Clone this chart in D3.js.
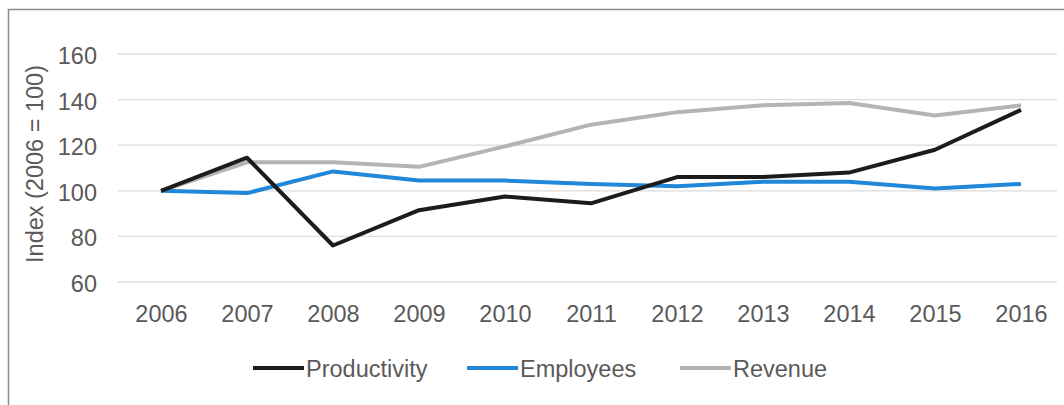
<!DOCTYPE html>
<html>
<head>
<meta charset="utf-8">
<script src="https://cdn.jsdelivr.net/npm/d3@7"></script>
<style>
  body { margin: 0; background: #fff; }
  svg { display: block; font-family: "Liberation Sans", Arial, sans-serif; }
</style>
</head>
<body>
<svg id="chart"></svg>
<script>
var years = ["2006","2007","2008","2009","2010","2011","2012","2013","2014","2015","2016"];
var productivity = [100, 114.5, 76, 91.5, 97.5, 94.5, 106, 106, 108, 118, 135.5];
var employees    = [100, 99, 108.5, 104.5, 104.5, 103, 102, 104, 104, 101, 103];
var revenue      = [100, 112.5, 112.5, 110.5, 119.5, 129, 134.5, 137.5, 138.5, 133, 137.5];
var yTicks = [60, 80, 100, 120, 140, 160];
var seriesNames = ["Productivity", "Employees", "Revenue"];
var seriesColors = ["#1c1c1c", "#2188d9", "#b4b4b4"];

window.onload = function(){
  var W = 1064, H = 405;
  var fs = 23.5;
  var svg = d3.select("#chart").attr("width", W).attr("height", H);

  // frame
  svg.append("rect")
    .attr("x", 8.5).attr("y", 9.5)
    .attr("width", W + 10).attr("height", H + 10)
    .attr("fill", "none").attr("stroke", "#8a8a8a").attr("stroke-width", 1.5);

  var x = d3.scalePoint().domain(years).range([161, 1021]);
  var y = d3.scaleLinear().domain([60, 160]).range([282, 54]);

  // gridlines
  svg.append("g").selectAll("line")
    .data(yTicks).enter()
    .append("line")
    .attr("x1", 118).attr("x2", 1057)
    .attr("y1", function(d){ return y(d); })
    .attr("y2", function(d){ return y(d); })
    .attr("stroke", "#dcdcdc").attr("stroke-width", 1.3);

  // y axis labels
  var yAxis = d3.axisLeft(y).tickValues(yTicks).tickSize(0).tickPadding(0);
  svg.append("g").attr("transform", "translate(97,2)").call(yAxis)
    .call(function(g){ g.select(".domain").remove(); })
    .selectAll("text")
    .attr("font-size", fs).attr("fill", "#5a5a5a")
    .attr("font-family", "Liberation Sans, Arial, sans-serif");

  // x axis labels
  var xAxis = d3.axisBottom(x).tickSize(0).tickPadding(0);
  svg.append("g").attr("transform", "translate(0,305)").call(xAxis)
    .call(function(g){ g.select(".domain").remove(); })
    .selectAll("text")
    .attr("font-size", fs).attr("fill", "#5a5a5a")
    .attr("font-family", "Liberation Sans, Arial, sans-serif");

  // y title
  svg.append("text")
    .attr("transform", "translate(43,164) rotate(-90)")
    .attr("text-anchor", "middle")
    .attr("font-size", fs).attr("fill", "#5a5a5a")
    .text("Index (2006 = 100)");

  var line = d3.line()
    .x(function(d, i){ return x(years[i]); })
    .y(function(d){ return y(d); });

  var allSeries = [revenue, employees, productivity];
  var order = [2, 1, 0];
  allSeries.forEach(function(s, k){
    svg.append("path")
      .datum(s)
      .attr("d", line)
      .attr("fill", "none")
      .attr("stroke", seriesColors[order[k]])
      .attr("stroke-width", 4)
      .attr("stroke-linejoin", "round");
  });

  // legend
  var legendX = [253, 467, 680];
  var leg = svg.append("g");
  seriesNames.forEach(function(n, i){
    leg.append("line")
      .attr("x1", legendX[i]).attr("x2", legendX[i] + 51)
      .attr("y1", 368).attr("y2", 368)
      .attr("stroke", seriesColors[i]).attr("stroke-width", 4);
    leg.append("text")
      .attr("x", legendX[i] + 53).attr("y", 377)
      .attr("font-size", fs).attr("fill", "#5a5a5a")
      .text(n);
  });
};
</script>
</body>
</html>
